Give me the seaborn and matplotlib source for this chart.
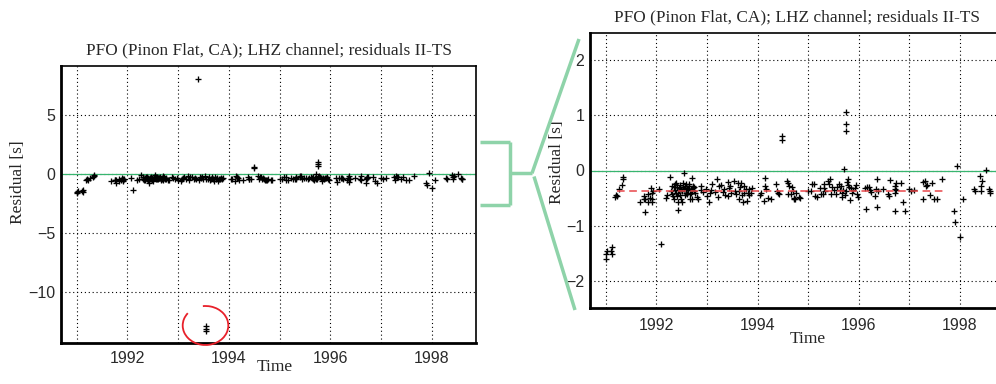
import matplotlib
matplotlib.use("Agg")
import matplotlib.pyplot as plt
import seaborn as sns
import pandas as pd
from matplotlib.lines import Line2D
from matplotlib.patches import Arc

# ---------------- data ----------------
years = [
    1991.01, 1991.01, 1991.03, 1991.11, 1991.13, 1991.12, 1991.18, 1991.20, 1991.22, 1991.26,
    1991.32, 1991.34, 1991.34, 1991.68, 1991.75, 1991.76, 1991.78, 1991.78, 1991.83, 1991.84,
    1991.88, 1991.89, 1991.91, 1991.92, 1991.92, 1991.94, 1992.06, 1992.10, 1992.19, 1992.22,
    1992.27, 1992.30, 1992.32, 1992.34, 1992.35, 1992.37, 1992.39, 1992.41, 1992.42, 1992.43,
    1992.43, 1992.45, 1992.47, 1992.49, 1992.50, 1992.52, 1992.54, 1992.55, 1992.57, 1992.58,
    1992.60, 1992.62, 1992.64, 1992.66, 1992.67, 1992.68, 1992.70, 1992.70, 1992.72, 1992.72,
    1992.74, 1992.76, 1992.80, 1992.82, 1992.88, 1992.89, 1992.93, 1992.98, 1993.00, 1993.05,
    1993.07, 1993.09, 1993.11, 1993.16, 1993.20, 1993.21, 1993.24, 1993.28, 1993.31, 1993.40,
    1993.41, 1993.42, 1993.44, 1993.48, 1993.53, 1993.54, 1993.54, 1993.54, 1993.55, 1993.61,
    1993.63, 1993.64, 1993.67, 1993.69, 1993.71, 1993.74, 1993.77, 1993.79, 1993.81, 1993.84,
    1993.87, 1993.89, 1994.04, 1994.07, 1994.12, 1994.14, 1994.15, 1994.17, 1994.20, 1994.27,
    1994.37, 1994.39, 1994.40, 1994.43, 1994.49, 1994.49, 1994.58, 1994.60, 1994.61, 1994.63,
    1994.66, 1994.68, 1994.70, 1994.72, 1994.73, 1994.75, 1994.77, 1994.82, 1994.84, 1995.00,
    1995.05, 1995.08, 1995.12, 1995.13, 1995.17, 1995.23, 1995.26, 1995.30, 1995.32, 1995.32,
    1995.33, 1995.40, 1995.41, 1995.43, 1995.45, 1995.48, 1995.61, 1995.63, 1995.66, 1995.67,
    1995.69, 1995.71, 1995.74, 1995.75, 1995.75, 1995.75, 1995.76, 1995.78, 1995.79, 1995.81,
    1995.83, 1995.85, 1995.89, 1995.92, 1995.96, 1995.98, 1996.12, 1996.14, 1996.17, 1996.20,
    1996.22, 1996.25, 1996.32, 1996.35, 1996.37, 1996.37, 1996.39, 1996.48, 1996.58, 1996.60,
    1996.61, 1996.71, 1996.71, 1996.72, 1996.72, 1996.73, 1996.74, 1996.83, 1996.87, 1996.91,
    1996.99, 1997.03, 1997.09, 1997.26, 1997.27, 1997.30, 1997.32, 1997.34, 1997.40, 1997.44,
    1997.49, 1997.55, 1997.65, 1997.88, 1997.91, 1997.94, 1998.00, 1998.06, 1998.28, 1998.29,
    1998.39, 1998.41, 1998.41, 1998.44, 1998.52, 1998.58, 1998.59, 1998.59,
    1992.31, 1992.33, 1992.36, 1992.38, 1992.40, 1992.44, 1992.46, 1992.48, 1992.51, 1992.53,
    1992.56, 1992.59, 1992.61, 1992.63, 1992.65, 1992.69, 1992.71, 1992.75,
    1995.52, 1995.55, 1995.58, 1995.65, 1995.72, 1995.87, 1995.94,
    1993.33, 1993.36, 1993.46, 1993.58, 1993.66, 1993.73, 1993.83,
]
residuals = [
    -1.61, -1.52, -1.46, -1.46, -1.52, -1.38, -0.48, -0.45, -0.46, -0.34,
    -0.27, -0.15, -0.11, -0.58, -0.52, -0.46, -0.75, -0.51, -0.57, -0.43,
    -0.49, -0.31, -0.52, -0.40, -0.58, -0.37, -0.33, -1.33, -0.49, -0.45,
    -0.11, -0.37, -0.43, -0.30, -0.51, -0.25, -0.23, -0.46, -0.72, -0.40,
    -0.58, -0.31, -0.27, -0.51, -0.57, -0.22, -0.04, -0.34, -0.28, -0.40,
    -0.31, -0.36, -0.25, -0.43, -0.52, -0.33, -0.13, -0.51, -0.28, -0.31,
    -0.37, -0.40, -0.48, -0.52, -0.28, -0.36, -0.39, -0.34, -0.46, -0.58,
    -0.40, -0.36, -0.25, -0.39, -0.16, -0.48, -0.28, -0.27, -0.39, 8.08,
    -0.46, -0.21, -0.31, -0.40, -0.19, -12.95, -13.15, -13.30, -0.37, -0.23,
    -0.51, -0.37, -0.23, -0.45, -0.58, -0.40, -0.34, -0.55, -0.40, -0.34,
    -0.40, -0.31, -0.45, -0.40, -0.55, -0.13, -0.28, -0.33, -0.49, -0.52,
    -0.25, -0.37, -0.40, -0.43, 0.63, 0.56, -0.19, -0.43, -0.23, -0.28,
    -0.43, -0.30, -0.37, -0.49, -0.51, -0.52, -0.40, -0.48, -0.49, -0.37,
    -0.37, -0.25, -0.25, -0.46, -0.48, -0.31, -0.42, -0.43, -0.31, -0.25,
    -0.37, -0.19, -0.25, -0.16, -0.42, -0.30, -0.25, -0.36, -0.40, -0.48,
    -0.36, 0.02, -0.37, 1.06, 0.85, 0.71, -0.21, -0.16, -0.27, -0.30,
    -0.54, -0.31, -0.36, -0.31, -0.42, -0.48, -0.31, -0.70, -0.30, -0.30,
    -0.36, -0.39, -0.46, -0.34, -0.16, -0.66, -0.37, -0.33, -0.42, -0.46,
    -0.17, -0.73, -0.40, -0.28, -0.34, -0.36, -0.22, -0.22, -0.58, -0.73,
    -0.33, -0.37, -0.36, -0.21, -0.52, -0.19, -0.28, -0.27, -0.45, -0.22,
    -0.52, -0.52, -0.15, -0.73, -0.93, 0.09, -1.20, -0.52, -0.34, -0.37,
    -0.10, -0.28, -0.37, -0.19, 0.01, -0.33, -0.37, -0.40,
    -0.28, -0.47, -0.35, -0.41, -0.30, -0.36, -0.44, -0.33, -0.38, -0.30,
    -0.45, -0.24, -0.42, -0.33, -0.29, -0.40, -0.35, -0.30,
    -0.35, -0.42, -0.30, -0.28, -0.44, -0.40, -0.26,
    -0.34, -0.44, -0.28, -0.42, -0.30, -0.28, -0.45,
]

title_text = "PFO (Pinon Flat, CA); LHZ channel; residuals II-TS"
x_label = "Time"
y_label = "Residual [s]"
mean_level = -0.38
mean_start, mean_end = 1991.22, 1997.67
year_ticks = [1991, 1992, 1993, 1994, 1995, 1996, 1997, 1998]
year_labels = ["", "1992", "", "1994", "", "1996", "", "1998"]
left_yticks = [-10, -5, 0, 5]
right_yticks = [-2, -1, 0, 1, 2]
x_limits = (1990.69, 1998.87)
left_ylim = (-14.33, 9.2)
right_ylim = (-2.5, 2.5)

df = pd.DataFrame({"year": years, "residual": residuals})

# ---------------- style ----------------
sns.set_style("white")
plt.rcParams["font.family"] = ["Liberation Sans", "DejaVu Sans"]
plt.rcParams["axes.unicode_minus"] = True

W, H = 996, 384
fig = plt.figure(figsize=(W / 100, H / 100), dpi=100)

def fx(px):
    return px / W

def fy(py):
    return 1 - py / H

ax_l = fig.add_axes([fx(61), fy(342.7), fx(415), (342.7 - 66) / H])
ax_r = fig.add_axes([fx(590), fy(308.3), fx(414), (308.3 - 32.7) / H])

serif = ["Liberation Serif", "DejaVu Serif"]
green = "#38b56f"
light_green = "#8ed3a9"

for ax, ylim, yticks, tpad in [
    (ax_l, left_ylim, left_yticks, 6),
    (ax_r, right_ylim, right_yticks, 7),
]:
    ax.axhline(0, color=green, lw=0.9, zorder=2)
    sns.scatterplot(data=df, x="year", y="residual", marker="+", color="black",
                    s=18, linewidth=0.95, ax=ax, zorder=3, legend=False)
    ax.set_xlim(*x_limits)
    ax.set_ylim(*ylim)
    ax.set_xticks(year_ticks)
    ax.set_xticklabels(year_labels)
    ax.set_yticks(yticks)
    ax.grid(True, color="black", ls=(0, (1, 2.5)), lw=0.8)
    ax.tick_params(direction="in", length=4, width=1, colors="black",
                   labelcolor="#2a2a2a", labelsize=11.5)
    ax.tick_params(axis="x", pad=tpad)
    ax.tick_params(axis="y", pad=4)
    for side in ["left", "bottom"]:
        ax.spines[side].set_linewidth(2.0)
    for side in ["top", "right"]:
        ax.spines[side].set_linewidth(1.2)
    for sp in ax.spines.values():
        sp.set_color("black")
    ax.set_title(title_text, family=serif, fontsize=12.4, pad=8)
    ax.set_xlabel(x_label, family=serif, fontsize=12.5)
    ax.set_ylabel(y_label, family=serif, fontsize=12.5)

ax_l.xaxis.set_label_coords(0.516, -0.058)
ax_l.xaxis.label.set_va("top")
ax_l.yaxis.set_label_coords(-0.084, 0.581)
ax_r.xaxis.set_label_coords(0.527, -0.082)
ax_r.xaxis.label.set_va("top")
ax_r.yaxis.set_label_coords(-0.060, 0.531)

# mean level (red dashed) on zoomed panel
ax_r.plot([mean_start, mean_end], [mean_level, mean_level], color="#e8474a",
          lw=1.1, ls=(0, (5, 3)), zorder=4)

# zoom connector (bracket)
segs = [
    ([480, 510], [141.7, 141.7]),
    ([480, 510], [204.5, 204.5]),
    ([510, 510], [141.7, 204.5]),
    ([510, 532], [173.3, 173.3]),
    ([532, 579], [173.3, 39]),
    ([534, 575], [176.5, 310]),
]
for xs, ys in segs:
    fig.add_artist(Line2D([fx(v) for v in xs], [fy(v) for v in ys],
                          transform=fig.transFigure, color=light_green,
                          lw=2.5, solid_capstyle="butt"))

# hand-drawn red circle around the outlier
arc = Arc((fx(205.5), fy(325.5)), 45.6 / W, 39 / H, theta1=119, theta2=453,
          transform=fig.transFigure, color="#e8202a", lw=1.3)
fig.add_artist(arc)

fig.savefig("out.png", dpi=100)
